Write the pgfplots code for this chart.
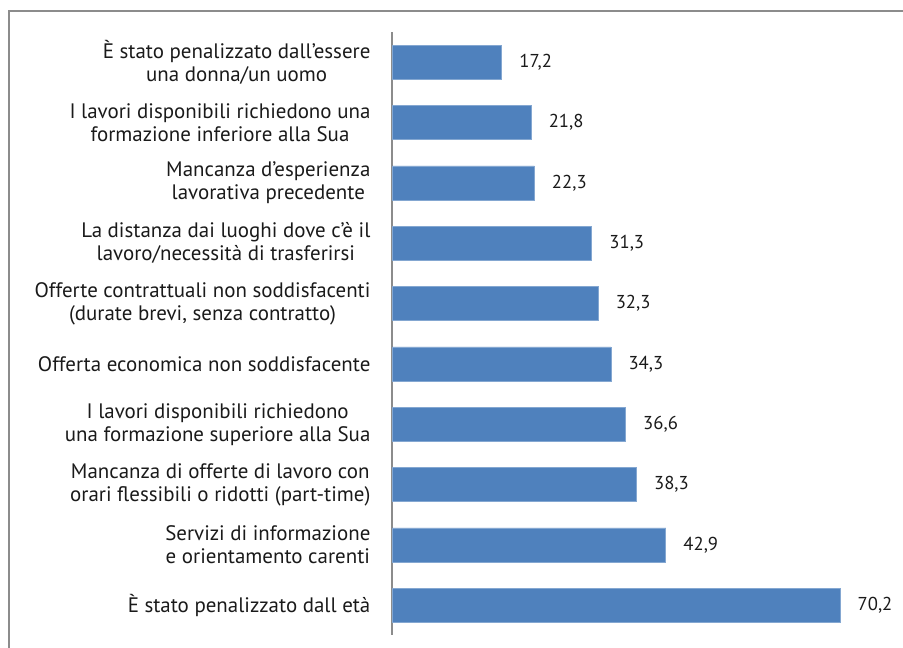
\documentclass[border=0pt]{standalone}
\usepackage{pgfplots}
\pgfplotsset{compat=1.18}
\usepackage{fontspec}
\setmainfont{PT Sans}
\definecolor{barblue}{HTML}{4F81BD}
\definecolor{framegray}{HTML}{8C8C8C}
\definecolor{txt}{HTML}{1A1A1A}
\begin{document}
\begin{tikzpicture}[x=1pt,y=1pt]
\path[use as bounding box] (0,0) rectangle (677.25,486);
\draw[framegray, line width=1.5pt] (6.75,0) -- (6.75,477.75) -- (677.25,477.75);
\begin{axis}[
  at={(294pt,9.4pt)}, anchor=south west,
  scale only axis,
  width=382.9pt, height=452.5pt,
  xmin=0, xmax=80,
  ymin=0.5, ymax=10.5,
  y dir=reverse,
  enlargelimits=false,
  xbar, bar width=25.5pt,
  axis x line=none,
  axis y line=left,
  y axis line style={-, draw=framegray, line width=1.1pt},
  ytick={1,...,10},
  major tick length=0pt,
  yticklabels={
    {È stato penalizzato dall'essere\\una donna/un uomo},
    {I lavori disponibili richiedono una\\formazione inferiore alla Sua},
    {Mancanza d'esperienza\\lavorativa precedente},
    {La distanza dai luoghi dove c'è il\\lavoro/necessità di trasferirsi},
    {Offerte contrattuali non soddisfacenti\\(durate brevi, senza contratto)},
    {Offerta economica non soddisfacente},
    {I lavori disponibili richiedono\\una formazione superiore alla Sua},
    {Mancanza di offerte di lavoro con\\orari flessibili o ridotti (part-time)},
    {Servizi di informazione\\e orientamento carenti},
    {È stato penalizzato dall età}},
  yticklabel style={align=center, anchor=east, inner sep=0pt, xshift=-16pt,
    font=\fontsize{15.7}{17.4}\selectfont, text=txt},
  /pgf/number format/assume math mode=true,
  nodes near coords={\pgfmathprintnumber[fixed, fixed zerofill, precision=1, use comma]{\pgfplotspointmeta}},
  point meta=x,
  every node near coord/.append style={anchor=west, inner sep=0pt, xshift=13pt,
    font=\fontsize{14}{17}\selectfont, text=txt},
]
\addplot[fill=barblue, draw=barblue!70!white, line width=0.5pt] coordinates {
  (17.2,1) (21.8,2) (22.3,3) (31.3,4) (32.3,5)
  (34.3,6) (36.6,7) (38.3,8) (42.9,9) (70.2,10)
};
\end{axis}
\end{tikzpicture}
\end{document}
